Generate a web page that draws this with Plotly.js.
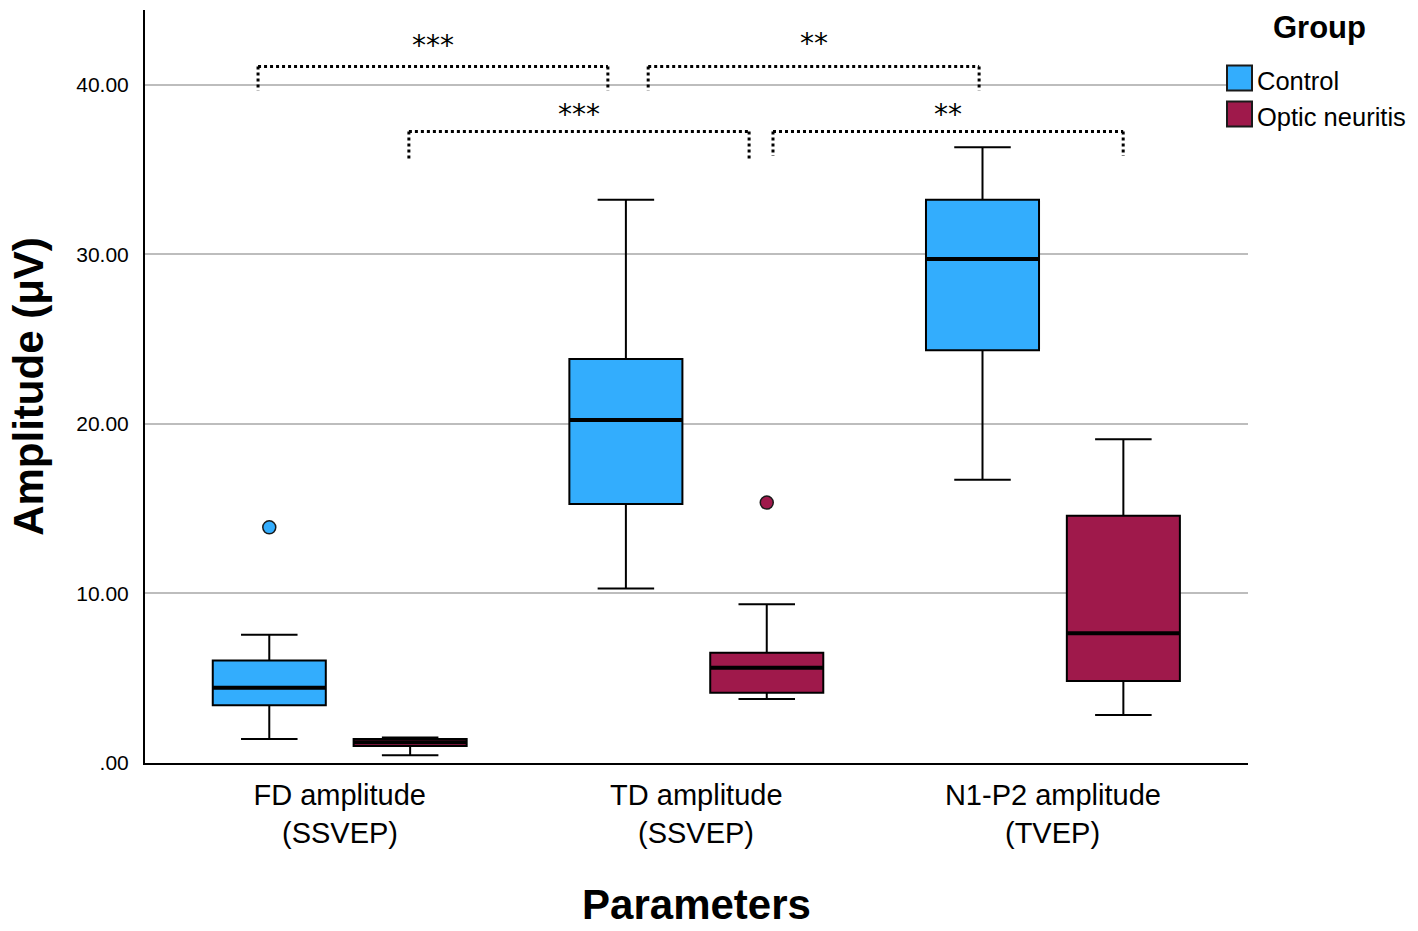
<!DOCTYPE html>
<html>
<head>
<meta charset="utf-8">
<script src="https://cdn.plot.ly/plotly-3.0.1.min.js"></script>
<style>html,body{margin:0;padding:0;background:#fff;}#chart{width:1418px;height:931px;}</style>
</head>
<body>
<div id="chart"></div>
<script>
// ---- data ----
const categoryLine1 = ['FD amplitude', 'TD amplitude', 'N1-P2 amplitude'];
const categoryLine2 = ['(SSVEP)', '(SSVEP)', '(TVEP)'];
const groups = ['Control', 'Optic neuritis'];

const controlLower  = [1.42, 10.30, 16.71];
const controlQ1     = [3.40, 15.28, 24.35];
const controlMedian = [4.44, 20.24, 29.73];
const controlQ3     = [6.04, 23.83, 33.22];
const controlUpper  = [7.57, 33.22, 36.32];

const onLower  = [0.45, 3.78, 2.83];
const onQ1     = [1.00, 4.15, 4.84];
const onMedian = [1.22, 5.62, 7.65];
const onQ3     = [1.42, 6.51, 14.59];
const onUpper  = [1.50, 9.36, 19.10];

const controlOutlierCat = [0];
const controlOutlierVal = [13.90];
const onOutlierCat = [1];
const onOutlierVal = [15.36];

const yTickVals = [0, 10, 20, 30, 40];
const yTickText = ['.00', '10.00', '20.00', '30.00', '40.00'];

// significance brackets (x in category units, y in µV)
const bracketX0 = [-0.229, 0.865, 0.194, 1.215];
const bracketX1 = [0.752, 1.793, 1.148, 2.197];
const bracketTop = [41.08, 41.08, 37.25, 37.25];
const bracketBottom = [39.65, 39.65, 35.63, 35.80];
const bracketLabel = ['***', '**', '***', '**'];
const bracketLabelY = [42.35, 42.45, 38.25, 38.25];

// ---- styling ----
const colControl = '#33adfd';
const colON = '#9f194b';
const offset = 0.1975;
const boxW = 0.317;
const FONT = 'Liberation Sans, Arial, sans-serif';
const PL = 145, PR = 1248, PT = 10, PB = 763;       // plot area in px
const px2paperX = px => (px - PL) / (PR - PL);
const px2paperY = py => (PB - py) / (PB - PT);

const idx = categoryLine1.map((c, i) => i);

function boxTrace(name, color, sign, lo, q1, med, q3, up) {
  return {
    type: 'box', name: name, showlegend: false,
    x: idx.map(i => i + sign * offset),
    lowerfence: lo, q1: q1, median: med, q3: q3, upperfence: up,
    width: boxW, whiskerwidth: 0.5,
    fillcolor: color,
    line: {color: '#000', width: 2},
    boxpoints: false, hoverinfo: 'skip'
  };
}

const traces = [
  boxTrace(groups[0], colControl, -1, controlLower, controlQ1, controlMedian, controlQ3, controlUpper),
  boxTrace(groups[1], colON, 1, onLower, onQ1, onMedian, onQ3, onUpper),
  {type: 'scatter', mode: 'markers', showlegend: false, name: groups[0] + ' outlier',
   x: controlOutlierCat.map(i => i - offset), y: controlOutlierVal,
   marker: {color: colControl, size: 13, line: {color: '#1a1a1a', width: 1.5}}},
  {type: 'scatter', mode: 'markers', showlegend: false, name: groups[1] + ' outlier',
   x: onOutlierCat.map(i => i + offset), y: onOutlierVal,
   marker: {color: colON, size: 13, line: {color: '#1a1a1a', width: 1.5}}}
];

const shapes = [];
const annotations = [];
// thicker median lines
idx.forEach(i => {
  shapes.push({type: 'line', xref: 'x', yref: 'y', x0: i - offset - boxW / 2, x1: i - offset + boxW / 2,
    y0: controlMedian[i], y1: controlMedian[i], line: {color: '#000', width: 4}});
  shapes.push({type: 'line', xref: 'x', yref: 'y', x0: i + offset - boxW / 2, x1: i + offset + boxW / 2,
    y0: onMedian[i], y1: onMedian[i], line: {color: '#000', width: 4}});
});
// second line of category labels
idx.forEach(i => {
  annotations.push({xref: 'x', yref: 'paper', x: i, y: px2paperY(833), text: categoryLine2[i],
    showarrow: false, xanchor: 'center', yanchor: 'middle',
    font: {family: FONT, size: 29, color: '#000'}});
});
// brackets
bracketX0.forEach((x0, k) => {
  const x1 = bracketX1[k];
  const dotted = {color: '#000', width: 3, dash: '3px,3px'};
  shapes.push({type: 'line', xref: 'x', yref: 'y', x0: x0, x1: x1, y0: bracketTop[k], y1: bracketTop[k], line: dotted});
  shapes.push({type: 'line', xref: 'x', yref: 'y', x0: x0, x1: x0, y0: bracketTop[k], y1: bracketBottom[k], line: dotted});
  shapes.push({type: 'line', xref: 'x', yref: 'y', x0: x1, x1: x1, y0: bracketTop[k], y1: bracketBottom[k], line: dotted});
  annotations.push({xref: 'x', yref: 'y', x: (x0 + x1) / 2, y: bracketLabelY[k], text: bracketLabel[k],
    showarrow: false, font: {family: 'DejaVu Sans, sans-serif', size: 28, color: '#000'},
    xanchor: 'center', yanchor: 'middle'});
});
// the 40.00 gridline runs on into the legend
shapes.push({type: 'line', xref: 'paper', yref: 'y', x0: 1, x1: px2paperX(1227), y0: 40, y1: 40,
  line: {color: '#b4b4b4', width: 2}});

// legend (drawn as swatches + text)
const legendColors = [colControl, colON];
const legendRowY = [78, 114];
annotations.push({xref: 'paper', yref: 'paper', x: px2paperX(1319), y: px2paperY(28), text: '<b>Group</b>',
  showarrow: false, xanchor: 'center', yanchor: 'middle', font: {family: FONT, size: 31, color: '#000'}});
groups.forEach((g, k) => {
  const cy = legendRowY[k];
  shapes.push({type: 'rect', xref: 'paper', yref: 'paper',
    x0: px2paperX(1227), x1: px2paperX(1252), y0: px2paperY(cy - 12.5), y1: px2paperY(cy + 12.5),
    fillcolor: legendColors[k], line: {color: '#1a1a1a', width: 2}});
  annotations.push({xref: 'paper', yref: 'paper', x: px2paperX(1255), y: px2paperY(cy + 3), text: g,
    showarrow: false, xanchor: 'left', yanchor: 'middle', font: {family: FONT, size: 25.5, color: '#000'}});
});

const layout = {
  width: 1418, height: 931,
  margin: {l: PL, r: 1418 - PR, t: PT, b: 931 - PB, autoexpand: false},
  paper_bgcolor: '#fff', plot_bgcolor: '#fff',
  font: {family: FONT, color: '#000'},
  showlegend: false,
  xaxis: {
    range: [-0.546, 2.547],
    tickvals: idx, ticktext: categoryLine1,
    ticks: 'outside', ticklen: 5, tickcolor: 'rgba(0,0,0,0)',
    tickfont: {family: FONT, size: 29, color: '#000'},
    showgrid: false, zeroline: false,
    showline: true, linecolor: '#000', linewidth: 2,
    title: {text: '<b>Parameters</b>', font: {family: FONT, size: 42, color: '#000'}, standoff: 80},
    automargin: false, fixedrange: true
  },
  yaxis: {
    range: [0, 44.42],
    tickvals: yTickVals, ticktext: yTickText,
    ticks: 'outside', ticklen: 10, tickcolor: 'rgba(0,0,0,0)',
    tickfont: {family: FONT, size: 21, color: '#000'},
    showgrid: true, gridcolor: '#bdbdbd', gridwidth: 2,
    zeroline: false,
    showline: true, linecolor: '#000', linewidth: 2,
    title: {text: '<b>Amplitude (μV)</b>', font: {family: FONT, size: 42, color: '#000'}, standoff: 20},
    automargin: false, fixedrange: true
  },
  shapes: shapes,
  annotations: annotations
};

Plotly.newPlot('chart', traces, layout, {displayModeBar: false, staticPlot: true});
</script>
</body>
</html>
